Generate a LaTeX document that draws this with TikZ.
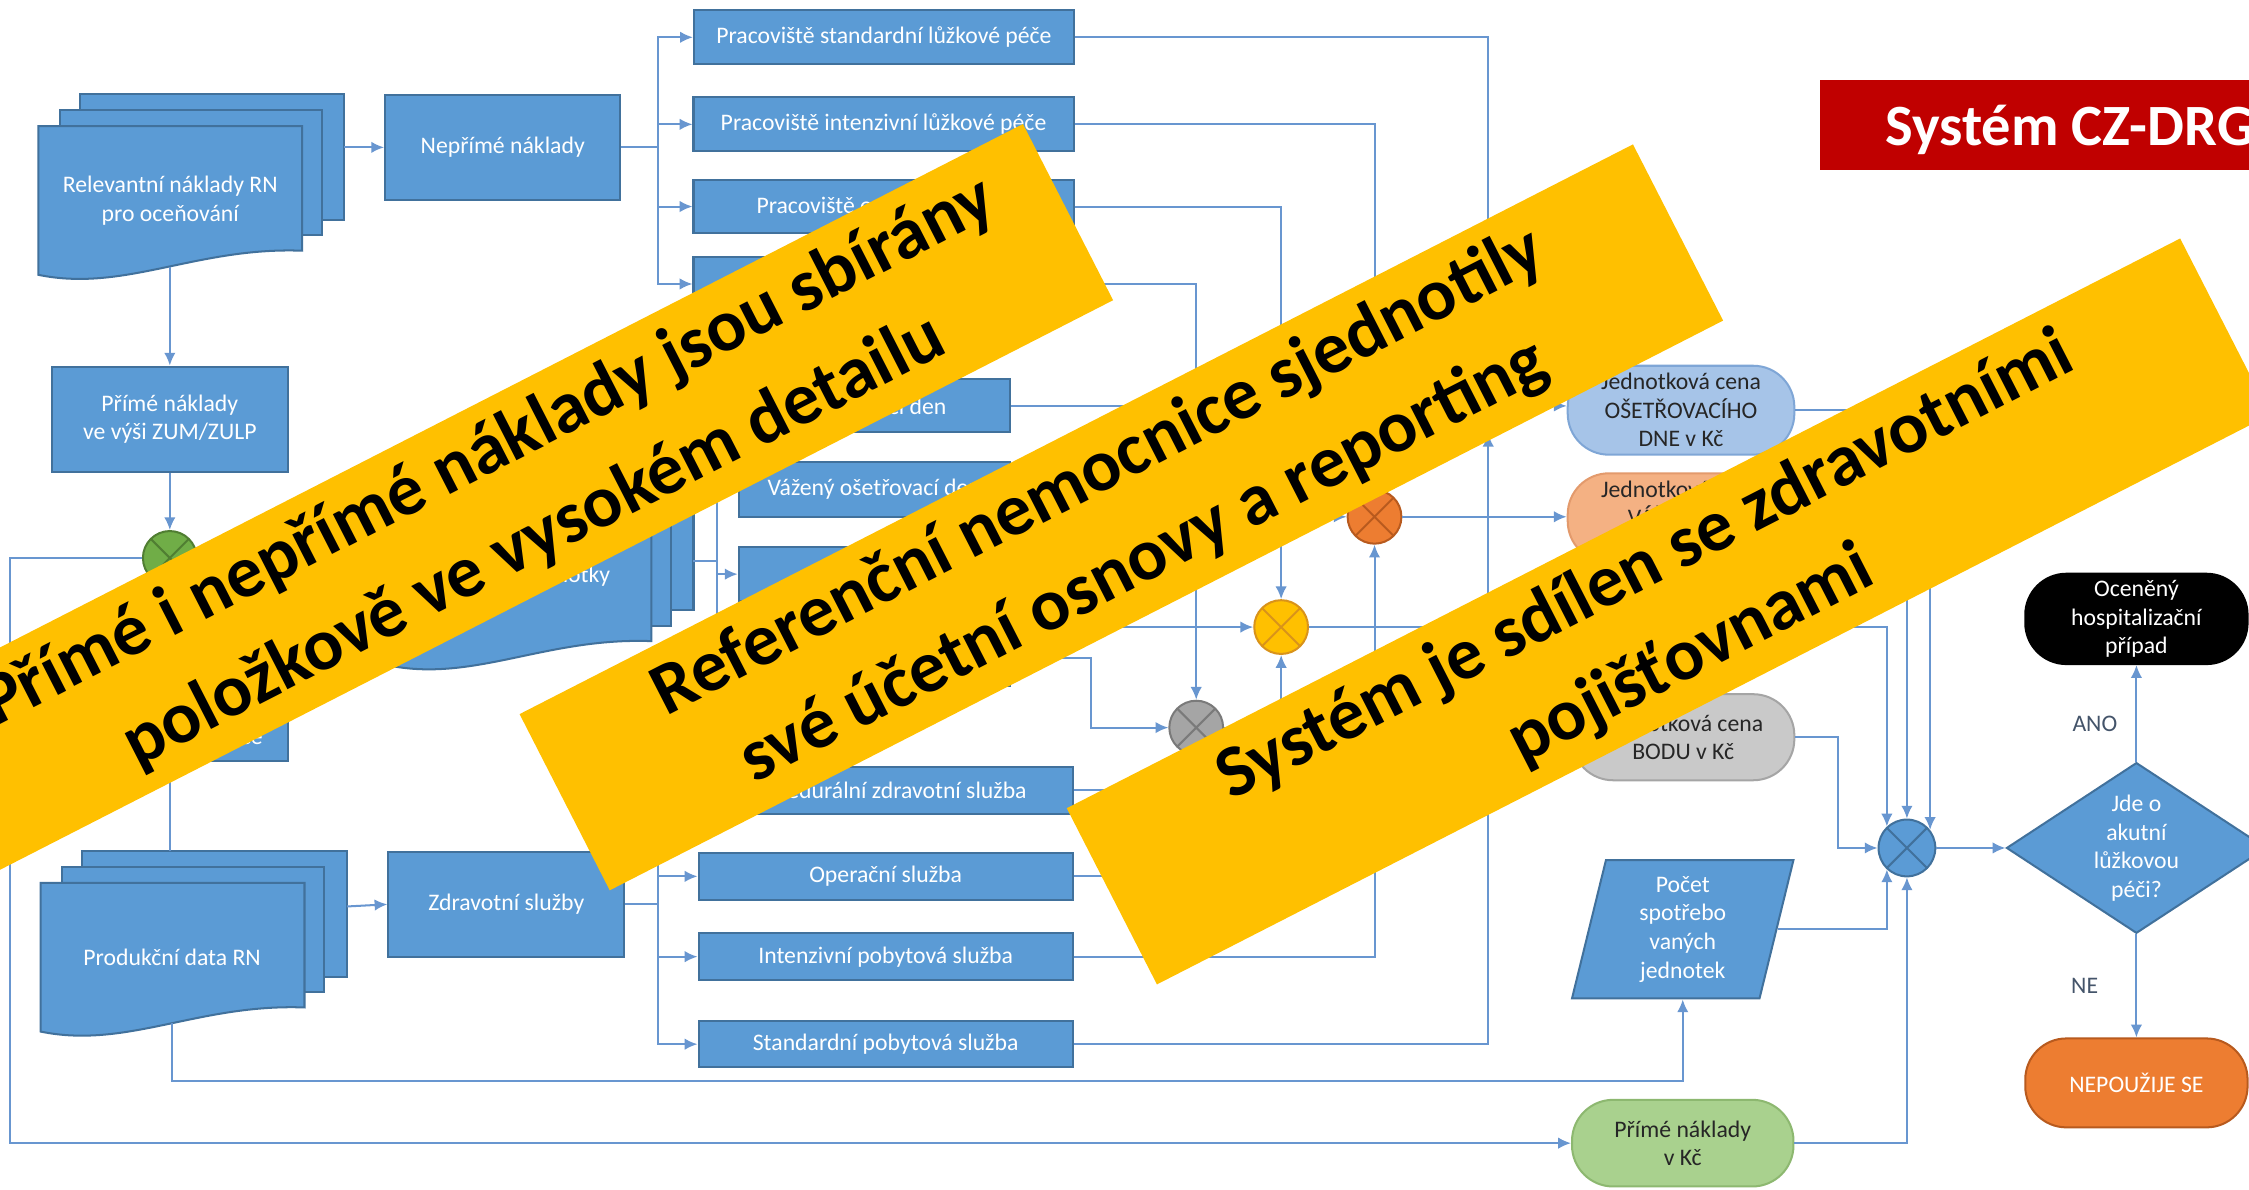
\documentclass[tikz,border=0pt]{standalone}
\usepackage{fontspec}
\setmainfont{Carlito}
\usetikzlibrary{shapes.geometric,arrows.meta}

\definecolor{boxblue}{HTML}{5B9BD5}
\definecolor{boxedge}{HTML}{41719C}
\definecolor{linkblue}{HTML}{6896D0}
\definecolor{pillblue}{HTML}{A6C4E8}
\definecolor{pillblueedge}{HTML}{7FA6D6}
\definecolor{pillsalmon}{HTML}{F4B183}
\definecolor{pillsalmonedge}{HTML}{E39A6C}
\definecolor{pillyellow}{HTML}{FFD966}
\definecolor{pillyellowedge}{HTML}{E8B530}
\definecolor{pillgrey}{HTML}{C9C9C9}
\definecolor{pillgreyedge}{HTML}{A5A5A5}
\definecolor{pillgreen}{HTML}{A9D18E}
\definecolor{pillgreenedge}{HTML}{8DB870}
\definecolor{darktext}{HTML}{262626}
\definecolor{labeltext}{HTML}{44546A}
\definecolor{opgreen}{HTML}{70AD47}
\definecolor{opgreenedge}{HTML}{507E32}
\definecolor{oporange}{HTML}{ED7D31}
\definecolor{oporangeedge}{HTML}{B85A1E}
\definecolor{opyellow}{HTML}{FFC000}
\definecolor{opyellowedge}{HTML}{D9931A}
\definecolor{opgrey}{HTML}{A5A5A5}
\definecolor{opgreyedge}{HTML}{7A7A7A}
\definecolor{bannery}{HTML}{FFC000}
\definecolor{titlered}{HTML}{C00000}

\newcommand{\nodefont}{\fontsize{7.06pt}{8.5pt}\selectfont}
\newcommand{\bannerfont}{\fontsize{21.9pt}{29.8pt}\selectfont\bfseries}
\newcommand{\titlefont}{\fontsize{17.4pt}{20pt}\selectfont\bfseries}
\newcommand{\docstack}[2]{%
  \filldraw[stack] ({#1+29},{#2-22.6}) rectangle ({#1+213.3},{#2+65.4});
  \filldraw[stack] ({#1+15},{#2-11.2}) rectangle ({#1+197.7},{#2+76});
  \filldraw[stack] (#1,#2) -- ({#1+184},#2) -- ({#1+184},{#2+86.8})
    .. controls ({#1+110},{#2+84}) and ({#1+60},{#2+116}) .. (#1,{#2+103.6}) -- cycle;}

\tikzset{
	> = {Latex[length=3.8pt,width=3.4pt]},
	link/.style = {draw=linkblue, line width=0.6pt},
	stack/.style = {fill=boxblue, draw=boxedge, line width=0.6pt},
	box/.style 2 args = {stack, text=white, font=\nodefont, align=center, inner sep=0pt,
		minimum width=#1*0.15mm, minimum height=#2*0.15mm},
	pill/.style n args = {4}{fill=#3, draw=#4, line width=0.6pt, rounded corners=4.3mm,
		text=darktext, font=\nodefont, align=center, inner sep=0pt,
		minimum width=#1*0.15mm, minimum height=#2*0.15mm},
	op/.style 2 args = {circle, fill=#1, draw=#2, line width=0.6pt, inner sep=0pt,
		minimum size=37.5*0.15mm,
		path picture={\draw[#2, line width=0.6pt]
			(path picture bounding box.north west) -- (path picture bounding box.south east)
			(path picture bounding box.north east) -- (path picture bounding box.south west);}},
	lbl/.style = {font=\nodefont, text=labeltext, inner sep=0pt},
	banner/.style = {fill=bannery, rotate=27.1, minimum width=872*0.15mm,
		minimum height=138*0.15mm, inner sep=0pt, align=center, font=\bannerfont}
}

\begin{document}
\begin{tikzpicture}[x=0.15mm, y=-0.15mm]
		\useasboundingbox (0,0) rectangle (1568,829);
		\clip (0,0) rectangle (1568,829);
		\fill[white] (0,0) rectangle (1568,829);

		\docstack{26.7}{88}
		\node[font=\nodefont, text=white, align=center] (relev) at (118.7,140) {Relevantní náklady RN\\pro oceňování};
		\coordinate (relevR) at (240,102.75);
		\coordinate (relevS) at (118.4,186);
		\docstack{270.2}{360.2}
		\node[font=\nodefont, text=white] (jedn) at (360.7,402) {Produkční jednotky};
		\coordinate (jednR) at (483.5,391);
		\docstack{28.3}{615.6}
		\node[font=\nodefont, text=white] (produk) at (120,667.6) {Produkční data RN};
		\coordinate (produkN) at (118.4,593.2);
		\coordinate (produkR) at (241.8,632);
		\coordinate (produkS) at (120,713);

		\node[box={164}{73}] (neprime) at (350.5,102.75) {Nepřímé náklady};
		\node[box={164.8}{73.4}] (zum) at (118.4,292.3) {Přímé náklady\\ve výši ZUM/ZULP};
		\node[op={opgreen}{opgreenedge}] (cGreen) at (118.4,389) {};
		\node[box={164.8}{73.3}] (cebox) at (118.4,493.7) {};
		\node[font=\nodefont, text=white] (cetext) at (175.5,515) {ce};
		\node[box={164.4}{73}] (zdrav) at (353,630.5) {Zdravotní služby};

		\node[box={265}{37.5}] (box1) at (616.3,26) {Pracoviště standardní lůžkové péče};
		\node[box={265}{37.5}] (box2) at (616,86.7) {Pracoviště intenzivní lůžkové péče};
		\node[box={265}{37.5}] (box3) at (616,144) {Pracoviště operačních sálů};
		\node[box={265}{37.5}] (box4) at (616,198) {};
		\node[box={189}{37}] (den) at (609.5,283) {Ošetřovací den};
		\node[box={189}{38}] (vazeny) at (609.5,341.4) {Vážený ošetřovací den};
		\node[box={189}{38}] (boxA) at (609.5,400.3) {};
		\node[box={189}{38}] (boxB) at (609.5,459) {};
		\node[box={261}{32.5}] (proced) at (617.5,551) {Procedurální zdravotní služba};
		\node[box={261}{32.5}] (oper) at (617.5,611) {Operační služba};
		\node[box={261}{32.5}] (inten) at (617.5,667) {Intenzivní pobytová služba};
		\node[box={261}{32.5}] (stand) at (617.5,728) {Standardní pobytová služba};

		\node[op={pillblue}{pillblueedge}] (cBlue) at (1037.6,283) {};
		\node[op={oporange}{oporangeedge}] (cOrange) at (958.3,360.3) {};
		\node[op={opyellow}{opyellowedge}] (cYellow) at (893.2,437.2) {};
		\node[op={opgrey}{opgreyedge}] (cGrey) at (834,507.3) {};

		\node[pill={158}{62}{pillblue}{pillblueedge}] (osetr) at (1172,286) {Jednotková cena\\OŠETŘOVACÍHO\\DNE v Kč};
		\node[pill={158}{62}{pillsalmon}{pillsalmonedge}] (salmon) at (1172,361) {Jednotková cena\\VÁŽENÉHO\\DNE v Kč};
		\node[pill={158}{62}{pillyellow}{pillyellowedge}] (yelln) at (1172,437.2) {};
		\node[pill={155}{60}{pillgrey}{pillgreyedge}] (greyn) at (1173.5,514) {Jednotková cena\\BODU v Kč};
		\node[trapezium, trapezium left angle=72.2, trapezium right angle=107.8, trapezium stretches body,
			minimum width=154.4*0.15mm, minimum height=96.5*0.15mm, inner sep=0pt, stack,
			text=white, font=\nodefont, align=center] (pocet) at (1173.2,647.85) {Počet\\spotřebo\\vaných\\jednotek};
		\node[pill={154.4}{60.4}{pillgreen}{pillgreenedge}] (primkc) at (1173.2,797) {Přímé náklady\\v Kč};
		\node[op={boxblue}{boxedge}, minimum size=39.6*0.15mm] (sum) at (1329.5,591.2) {};
		\node[diamond, aspect=1.52, minimum width=181.2*0.15mm, minimum height=119*0.15mm, inner sep=0pt,
			stack, text=white, font=\nodefont, align=center] (akut) at (1489.5,591.2) {Jde o\\akutní\\lůžkovou\\péči?};
		\node[pill={155}{63}{black}{black}, text=white] (ocen) at (1489.5,431.5) {Oceněný\\hospitalizační\\případ};
		\node[pill={155}{62}{oporange}{oporangeedge}, text=white] (nepouz) at (1489.5,755) {NEPOUŽIJE SE};

		\draw[link,->] (relevR) -- (neprime.west);
		\coordinate (nbus) at (458.6,102.75);
		\foreach \b in {box1,box2,box3,box4}
			\draw[link,->] (neprime.east) -- (nbus) |- (\b.west);
		\draw[link,->] (relevS) -- (zum.north);
		\draw[link,->] (zum.south) -- (cGreen.north);
		\draw[link,->] (cebox.north) -- (cGreen.south);
		\draw[link,->] (produkN) -- (cebox.south);
		\coordinate (loopL) at (7.3,389);
		\draw[link,->] (cGreen.west) -- (loopL) |- (primkc.west);
		\coordinate (prodBend) at (120,753.5);
		\draw[link,->] (produkS) -- (prodBend) -| (pocet.south);
		\draw[link,->] (produkR) -- (zdrav.west);
		\coordinate (zbus) at (458.6,630.5);
		\foreach \b in {proced,oper,inten,stand}
			\draw[link,->] (zdrav.east) -- (zbus) |- (\b.west);
		\coordinate (jbus) at (500.1,391);
		\foreach \b in {den,vazeny,boxA,boxB}
			\draw[link,->] (jednR) -- (jbus) |- (\b.west);
		\draw[link,->] (box1.east) -| (cBlue.north);
		\draw[link,->] (box2.east) -| (cOrange.north);
		\draw[link,->] (box3.east) -| (cYellow.north);
		\draw[link,->] (box4.east) -| (cGrey.north);
		\draw[link,->] (den.east) -- (cBlue.west);
		\draw[link,->] (vazeny.east) -- ++(200,0) |- (cOrange.west);
		\draw[link,->] (boxA.east) -- ++(66,0) |- (cYellow.west);
		\draw[link,->] (boxB.east) -- ++(55.7,0) |- (cGrey.west);
		\draw[link,->] (proced.east) -| (cGrey.south);
		\draw[link,->] (oper.east) -| (cYellow.south);
		\draw[link,->] (inten.east) -| (cOrange.south);
		\draw[link,->] (stand.east) -| (cBlue.south);
		\draw[link,->] (cBlue.east) -- (cBlue.east -| osetr.west);
		\draw[link,->] (cOrange.east) -- (cOrange.east -| salmon.west);
		\draw[link,->] (cYellow.east) -- (yelln.west);
		\draw[link,->] (cGrey.east) -- (cGrey.east -| greyn.west);
		\draw[link,->] (osetr.east) -| (sum.38.5);
		\draw[link,->] (salmon.east) -| (sum.north);
		\draw[link,->] (yelln.east) -| (sum.133);
		\draw[link,->] (greyn.east) -- ++(29.5,0) |- (sum.west);
		\draw[link,->] (pocet.east) -| (sum.-133);
		\draw[link,->] (primkc.east) -| (sum.south);
		\draw[link,->] (sum.east) -- (akut.west);
		\draw[link,->] (akut.north) -- node[lbl, pos=0.39, left=1.9mm] {ANO} (ocen.south);
		\draw[link,->] (akut.south) -- node[lbl, pos=0.5, left=3.9mm] {NE} (nepouz.north);

		\node[banner] (bannerA) at (356.5,346.5) {Přímé i nepřímé náklady jsou sbírány\\položkově ve vysokém detailu};
		\node[banner] (bannerB) at (781.8,360.7) {Referenční nemocnice sjednotily\\své účetní osnovy a reporting};
		\node[banner] (bannerC) at (1163.3,426.3) {Systém je sdílen se zdravotními\\pojišťovnami};

		\fill[titlered] (1269,56) rectangle (1580,118.7);
		\node[anchor=base west, text=white, font=\titlefont, inner sep=0pt] (title) at (1314,101.5) {Systém CZ-DRG};
	\end{tikzpicture}
\end{document}
